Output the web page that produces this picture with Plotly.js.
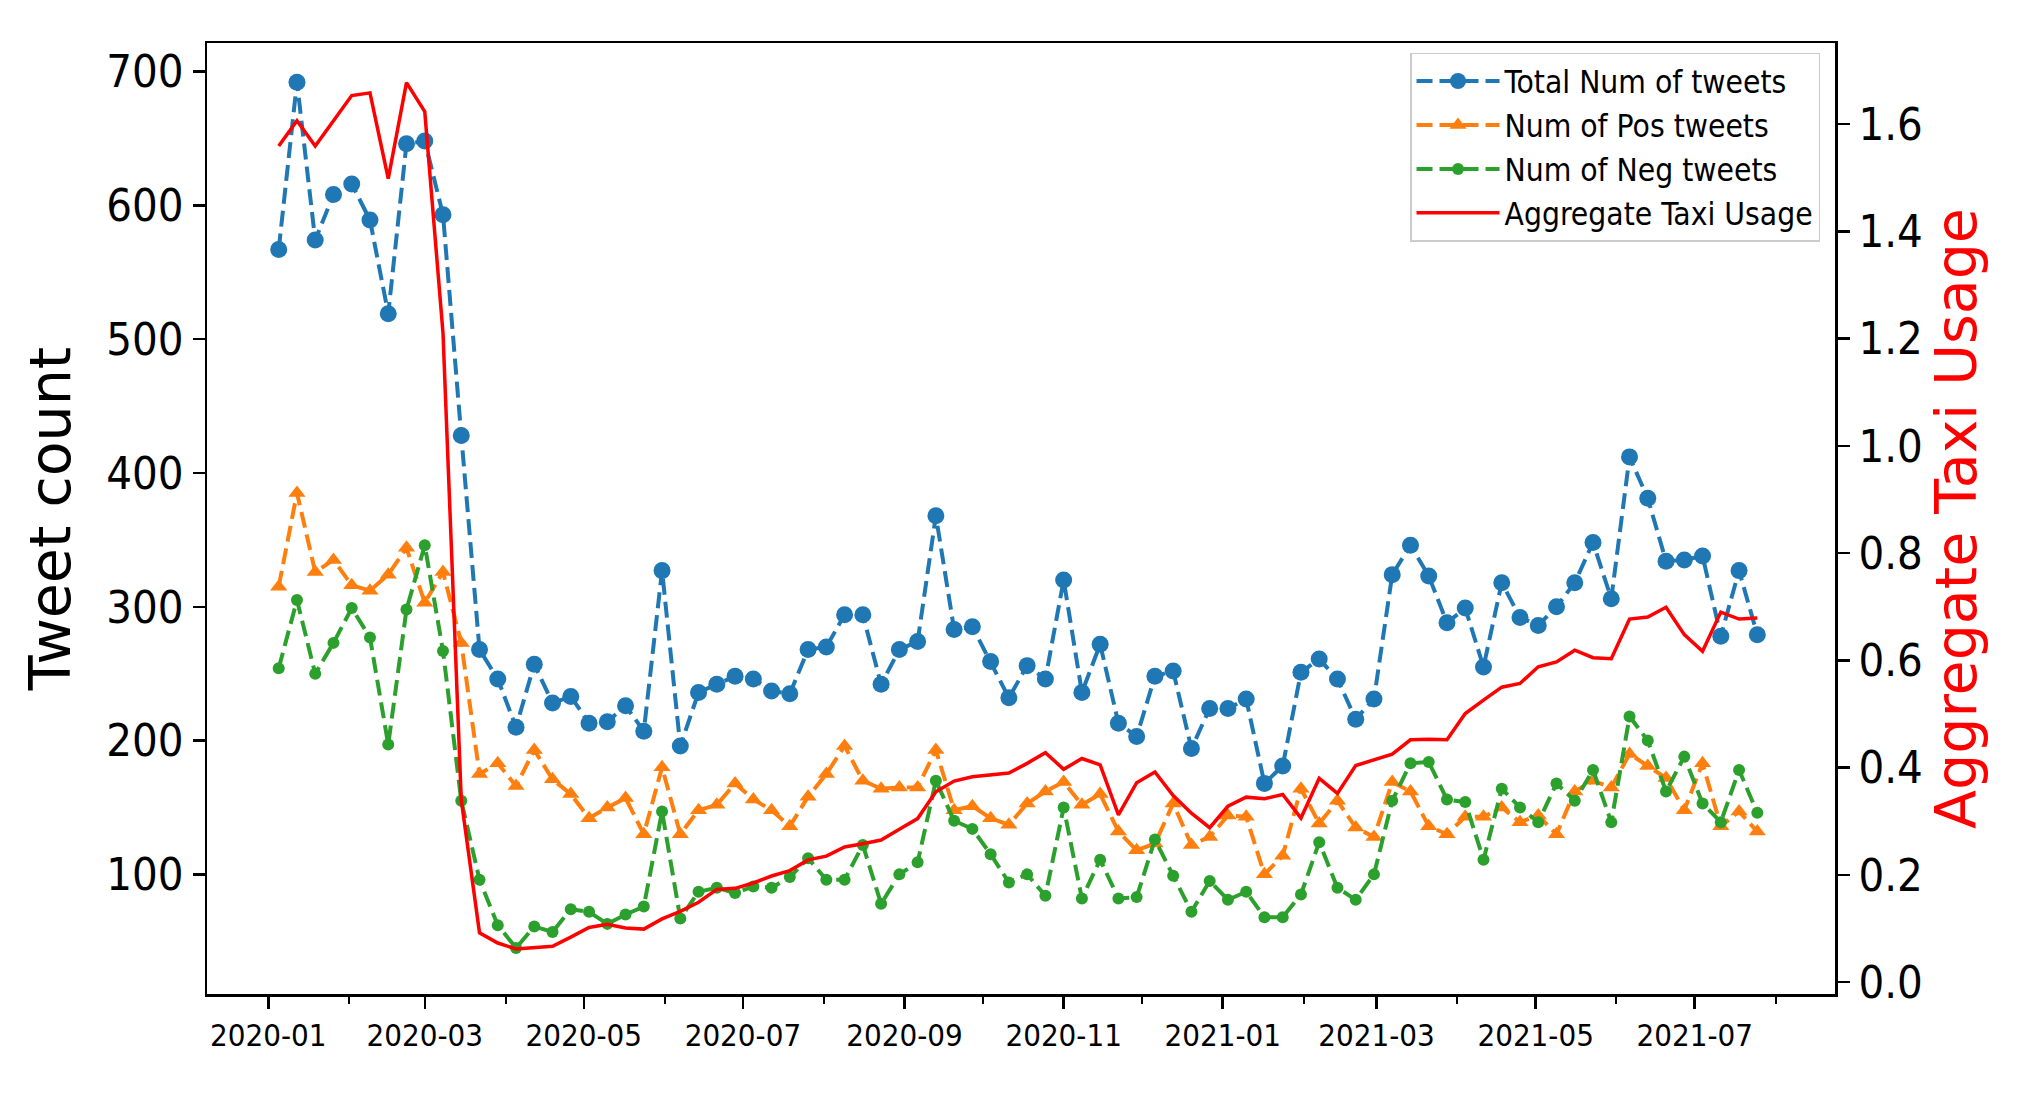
<!DOCTYPE html>
<html>
<head>
<meta charset="utf-8">
<script src="https://cdn.plot.ly/plotly-3.0.1.min.js"></script>
<style>
  html, body { margin: 0; padding: 0; background: #fff; }
  #chart { width: 2025px; height: 1096px; }
</style>
</head>
<body>
<div id="chart"></div>
<script>
// Weekly dates
const dates = [
  '2020-01-05','2020-01-12','2020-01-19','2020-01-26',
  '2020-02-02','2020-02-09','2020-02-16','2020-02-23',
  '2020-03-01','2020-03-08','2020-03-15','2020-03-22','2020-03-29',
  '2020-04-05','2020-04-12','2020-04-19','2020-04-26',
  '2020-05-03','2020-05-10','2020-05-17','2020-05-24','2020-05-31',
  '2020-06-07','2020-06-14','2020-06-21','2020-06-28',
  '2020-07-05','2020-07-12','2020-07-19','2020-07-26',
  '2020-08-02','2020-08-09','2020-08-16','2020-08-23','2020-08-30',
  '2020-09-06','2020-09-13','2020-09-20','2020-09-27',
  '2020-10-04','2020-10-11','2020-10-18','2020-10-25',
  '2020-11-01','2020-11-08','2020-11-15','2020-11-22','2020-11-29',
  '2020-12-06','2020-12-13','2020-12-20','2020-12-27',
  '2021-01-03','2021-01-10','2021-01-17','2021-01-24','2021-01-31',
  '2021-02-07','2021-02-14','2021-02-21','2021-02-28',
  '2021-03-07','2021-03-14','2021-03-21','2021-03-28',
  '2021-04-04','2021-04-11','2021-04-18','2021-04-25',
  '2021-05-02','2021-05-09','2021-05-16','2021-05-23','2021-05-30',
  '2021-06-06','2021-06-13','2021-06-20','2021-06-27',
  '2021-07-04','2021-07-11','2021-07-18','2021-07-25'
];

const totalTweets = [567, 692, 574, 608, 616, 589, 519, 646, 648, 593,
  428, 268, 246, 210, 257, 228, 233, 213, 214, 226,
  207, 327, 196, 236, 242, 248, 246, 237, 235, 268,
  270, 294, 294, 242, 268, 274, 368, 283, 285, 259,
  232, 256, 246, 320, 236, 272, 213, 203, 248, 252,
  194, 224, 224, 231, 168, 181, 251, 261, 246, 216,
  231, 324, 346, 323, 288, 299, 255, 318, 292, 286,
  300, 318, 348, 306, 412, 381, 334, 335, 338, 278,
  327, 279];

const posTweets = [315, 385, 326, 335, 316, 312, 324, 344, 303, 326,
  273, 175, 183, 166, 193, 171, 160, 142, 150, 157,
  130, 180, 130, 148, 152, 168, 156, 148, 136, 158,
  175, 196, 170, 164, 165, 165, 193, 148, 151, 142,
  137, 153, 162, 169, 152, 160, 132, 118, 123, 153,
  122, 128, 144, 143, 100, 114, 164, 138, 155, 135,
  128, 169, 162, 136, 130, 143, 143, 150, 139, 144,
  130, 162, 170, 165, 190, 181, 172, 148, 183, 136,
  147, 132];

const negTweets = [254, 305, 250, 273, 299, 277, 197, 298, 346, 267,
  155, 96, 62, 45, 61, 57, 74, 72, 63, 70,
  76, 147, 67, 87, 90, 86, 91, 90, 98, 112,
  96, 96, 122, 78, 100, 109, 170, 140, 134, 115,
  94, 100, 84, 150, 82, 111, 82, 83, 126, 99,
  72, 95, 81, 87, 68, 68, 85, 124, 90, 81,
  100, 155, 183, 184, 156, 154, 111, 164, 150, 139,
  168, 155, 178, 139, 218, 200, 162, 188, 153, 139,
  178, 146];

const taxiUsage = [1.559, 1.606, 1.559, 1.605, 1.653, 1.658, 1.498, 1.677, 1.623, 1.21,
  0.34, 0.092, 0.073, 0.062, 0.064, 0.067, 0.084, 0.102, 0.108, 0.101,
  0.099, 0.118, 0.132, 0.149, 0.173, 0.175, 0.185, 0.198, 0.208, 0.228,
  0.235, 0.252, 0.258, 0.265, 0.285, 0.305, 0.355, 0.375, 0.383, 0.386,
  0.39, 0.408, 0.428, 0.397, 0.417, 0.405, 0.312, 0.372, 0.392, 0.348,
  0.315, 0.288, 0.328, 0.345, 0.342, 0.350, 0.306, 0.380, 0.352, 0.404,
  0.415, 0.425, 0.452, 0.453, 0.452, 0.501, 0.526, 0.550, 0.557, 0.588,
  0.597, 0.619, 0.605, 0.603, 0.677, 0.681, 0.699, 0.648, 0.617, 0.690,
  0.677, 0.679];

const leftTicks = [100, 200, 300, 400, 500, 600, 700];
const rightTicks = [0.0, 0.2, 0.4, 0.6, 0.8, 1.0, 1.2, 1.4, 1.6];
const seriesNames = ['Total Num of tweets', 'Num of Pos tweets', 'Num of Neg tweets', 'Aggregate Taxi Usage'];

const COND = '"DejaVu Sans Condensed", "DejaVu Sans", sans-serif';
const SANS = '"DejaVu Sans", sans-serif';
const DASH = '16px,7px';

const traces = [
  { x: dates, y: totalTweets, name: seriesNames[0], type: 'scatter', mode: 'lines+markers',
    line: { color: '#1f77b4', width: 4, dash: DASH },
    marker: { color: '#1f77b4', symbol: 'circle', size: 17 } },
  { x: dates, y: posTweets, name: seriesNames[1], type: 'scatter', mode: 'lines+markers',
    line: { color: '#ff7f0e', width: 4, dash: DASH },
    marker: { color: '#ff7f0e', symbol: 'triangle-up', size: 15 } },
  { x: dates, y: negTweets, name: seriesNames[2], type: 'scatter', mode: 'lines+markers',
    line: { color: '#2ca02c', width: 4, dash: DASH },
    marker: { color: '#2ca02c', symbol: 'circle', size: 12 } },
  { x: dates, y: taxiUsage, name: seriesNames[3], type: 'scatter', mode: 'lines', yaxis: 'y2',
    line: { color: '#ff0000', width: 3.5 } }
];

const layout = {
  width: 2025, height: 1096,
  paper_bgcolor: '#ffffff', plot_bgcolor: '#ffffff',
  margin: { l: 207, r: 190, t: 43, b: 102 },
  showlegend: true,
  xaxis: {
    type: 'date',
    range: ['2019-12-08 12:00', '2021-08-23 19:00'],
    tick0: '2020-01-01', dtick: 'M2', tickformat: '%Y-%m',
    ticks: 'outside', ticklen: 12, tickwidth: 2.5, tickcolor: '#000',
    minor: { dtick: 'M1', ticks: 'outside', ticklen: 7, tickwidth: 2, tickcolor: '#000' },
    showgrid: false, zeroline: false,
    showline: true, linecolor: '#000', linewidth: 2.5, mirror: true,
    tickfont: { family: COND, size: 31, color: '#000' }
  },
  yaxis: {
    range: [10.6, 721.3],
    tickvals: leftTicks, ticktext: leftTicks.map(String),
    ticks: 'outside', ticklen: 12, tickwidth: 2.5, tickcolor: '#000',
    showgrid: false, zeroline: false,
    showline: true, linecolor: '#000', linewidth: 2.5,
    tickfont: { family: COND, size: 45, color: '#000' },
    title: { text: 'Tweet count', font: { family: SANS, size: 57, color: '#000' }, standoff: 18 }
  },
  yaxis2: {
    overlaying: 'y', side: 'right',
    range: [-0.022, 1.751],
    tickvals: rightTicks, ticktext: rightTicks.map(v => v.toFixed(1)),
    ticks: 'outside', ticklen: 12, tickwidth: 2.5, tickcolor: '#000',
    showgrid: false, zeroline: false,
    showline: true, linecolor: '#000', linewidth: 2.5,
    tickfont: { family: COND, size: 45, color: '#000' },
    title: { text: 'Aggregate Taxi Usage', font: { family: SANS, size: 57, color: '#ff0000' }, standoff: 10 }
  },
  legend: {
    x: 0.9908, xanchor: 'right', y: 0.990, yanchor: 'top',
    bgcolor: 'rgba(255,255,255,0.85)', bordercolor: '#cccccc', borderwidth: 1.5,
    font: { family: COND, size: 31.5, color: '#000' },
    itemwidth: 83, traceorder: 'normal'
  }
};

Plotly.newPlot('chart', traces, layout, { displayModeBar: false, staticPlot: true });
</script>
</body>
</html>
